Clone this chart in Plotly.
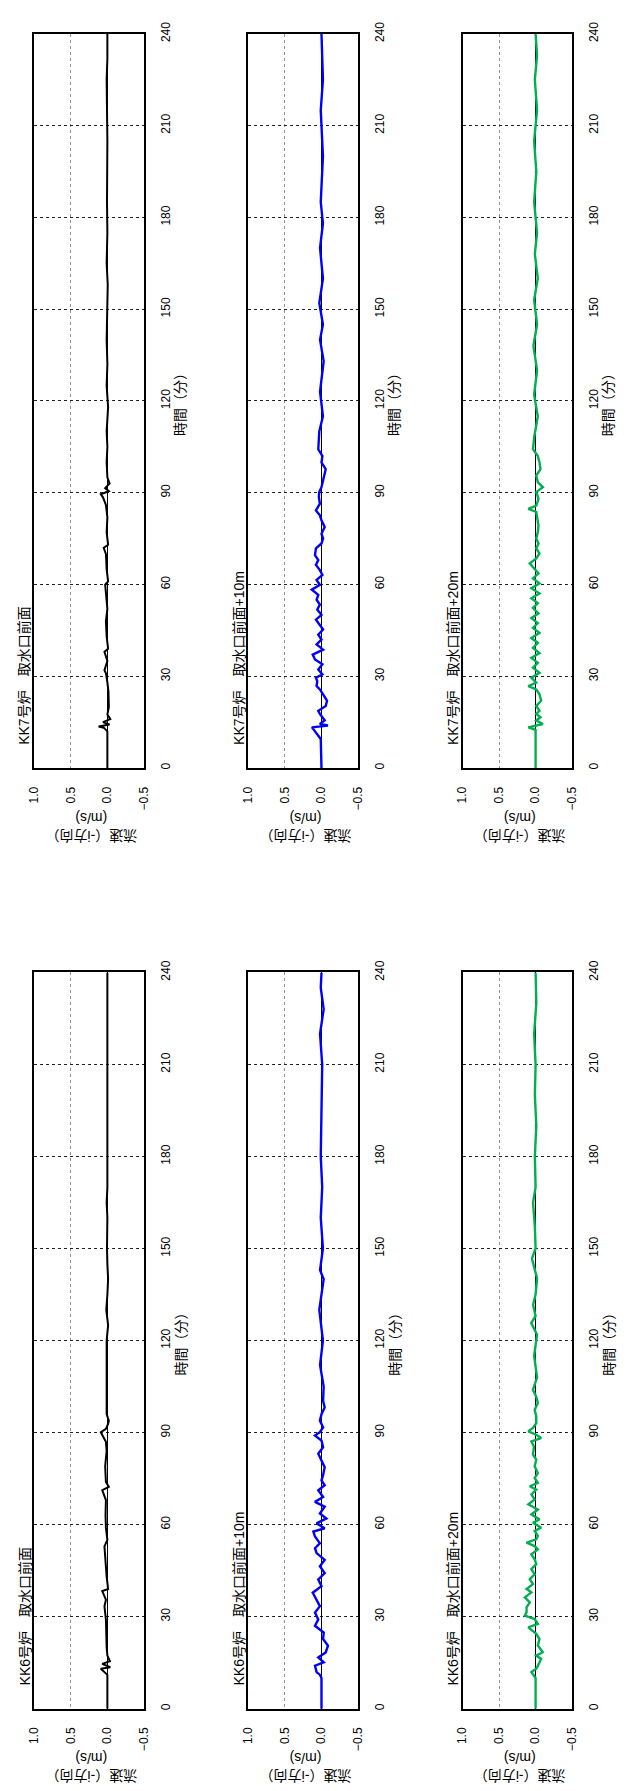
import plotly.graph_objects as go

# ---------------- data (velocity m/s vs time min) ----------------
t_kk6_black = [0, 11, 11.9, 13, 13.5, 14.6, 15.5, 17.3, 20, 24.8, 29, 33.4, 35.5, 38.3, 39, 43, 47, 52.9, 55, 59, 63, 68, 71.2, 72.3, 73.9, 79, 84, 87, 90.1, 91.2, 92.8, 93.8, 96, 100,
               105, 110, 115, 120, 125, 130, 135, 140, 145, 150, 160, 165, 170, 180, 190, 200, 210, 220, 225, 230, 240]
v_kk6_black = [0, 0, 0.04, 0.09, -0.04, 0.07, -0.035, 0.0, 0.01, 0.01, 0.02, 0.04, 0.02, 0.07, -0.01, 0.01, 0.02, 0.04, 0.0, 0.02, 0.025, 0.02, 0.07, -0.02, 0.02, 0.03, 0.01, 0.02, 0.09, 0.02, -0.01, -0.02, 0.01, 0.01,
               0.0, 0.01, 0.0, 0.01, -0.01, 0.015, 0.0, -0.01, 0.0, 0.005, 0.0, 0.01, 0.0, 0.0, 0.005, 0.0, 0.0, 0.005, 0.01, 0.0, 0.0]

t_kk6_blue = [0, 10, 11, 11.9, 14.0, 15.1, 16.7, 18.3, 20.5, 22.7, 24.8, 25.9, 27.0, 29.1, 31.3, 33.4, 35.6, 37.8, 39.9, 42.1, 44.2, 46.4, 48.5, 50.7, 52.3, 53.9, 56.1, 57.7, 58.8, 60.4, 62.0, 63.6, 65.8, 67.4, 69.0, 71.2, 72.8, 74.4, 76.1, 78.7, 80.9, 83.1, 85.2, 87.4, 89.0, 90.1, 91.7, 93.9, 96.0, 98.2, 100.3,
              105, 112, 120, 130, 140, 143, 150, 160, 170, 180, 195, 210, 220, 228, 235, 240]
v_kk6_blue = [0, 0, 0.02, 0.067, 0.089, -0.031, 0.044, -0.058, -0.089, -0.022, -0.031, 0.022, 0.089, 0.044, 0.089, 0.022, 0.067, 0.12, 0.0, 0.044, -0.044, 0.022, -0.044, 0.067, 0.089, 0.022, 0.089, 0.111, -0.044, 0.067, -0.067, 0.022, -0.044, 0.089, -0.022, 0.044, -0.044, 0.0, -0.022, -0.044, 0.0, 0.044, -0.022, 0.0, 0.089, 0.022, -0.022, 0.022, 0.0, -0.044, -0.022,
              -0.03, 0.02, -0.02, 0.03, -0.03, 0.02, -0.02, 0.01, -0.01, 0.01, 0.0, -0.01, 0.02, -0.03, 0.01, 0.0]

t_kk6_green = [0, 10, 11.9, 13, 14, 16.2, 17.3, 18.4, 20.6, 22.7, 24.4, 26.5, 27.6, 29.2, 30.3, 31.4, 33, 34.6, 36.3, 37.9, 39, 40.6, 42.2, 43.8, 45.5, 47.1, 48.7, 50.3, 51.9, 53, 54.1, 55.2, 56.3, 57.9, 59, 60.6, 61.7, 63.3, 64.9, 66.6, 68.2, 69.8, 71.4, 72.5, 73.6, 75.2, 76.8, 79, 81.2, 82.8, 85.5, 87.1, 88.2, 89.3, 90.4, 91.5, 93.1, 95.3, 97.4, 99.6, 101.7, 103.9,
               108, 115, 121.9, 125.7, 128, 131.6, 135, 140.3, 146.7, 150, 157, 165, 170, 180, 190, 200, 210, 220, 230, 240]
v_kk6_green = [0, 0, 0.058, -0.009, -0.031, -0.076, -0.009, -0.098, -0.031, -0.053, -0.009, 0.10, -0.031, 0.013, 0.147, 0.124, 0.124, 0.08, 0.147, 0.058, 0.124, 0.036, 0.08, 0.013, 0.058, -0.009, 0.013, 0.058, -0.031, 0.013, 0.124, -0.009, -0.031, 0.013, -0.076, 0.036, -0.053, 0.058, -0.031, 0.10, 0.013, 0.058, -0.009, 0.08, -0.031, 0.013, -0.031, 0.013, -0.009, 0.036, 0.022, 0.058, -0.076, -0.009, 0.10, 0.036, -0.009, -0.009, 0.013, -0.031, -0.009, 0.036,
               -0.02, 0.02, -0.02, 0.06, 0.0, 0.035, 0.0, -0.02, 0.05, 0.0, 0.01, 0.035, 0.0, 0.01, -0.01, 0.01, 0.0, 0.02, -0.01, 0.0]

t_kk7_black = [0, 12, 13.2, 13.6, 14.2, 15, 16, 17.5, 20, 25, 28, 31, 32, 35, 38, 39, 43, 48, 52, 56, 60, 61, 65, 70, 72, 73, 77, 82, 86, 88.5, 89.5, 90.5, 91.5, 93, 95, 100,
               105, 110, 118, 125, 132, 140, 150, 158, 165, 175, 185, 195, 205, 215, 225, 232, 240]
v_kk7_black = [0, 0, 0.05, 0.12, -0.03, 0.06, -0.04, 0.0, -0.02, -0.015, 0.0, 0.02, 0.04, 0.0, 0.04, -0.01, 0.01, 0.02, 0.0, 0.02, 0.03, -0.01, 0.01, 0.02, 0.05, -0.01, 0.01, 0.0, 0.02, 0.06, 0.09, -0.02, 0.03, -0.03, 0.0, 0.01,
               0.0, 0.01, -0.01, 0.01, 0.0, 0.01, 0.0, -0.005, 0.01, 0.0, 0.005, 0.0, 0.0, 0.005, 0.01, 0.0, 0.0]

t_kk7_blue = [0, 9.5, 13.3, 13.9, 14.4, 15.6, 17.7, 18.7, 20.3, 22, 24.1, 25.7, 26.8, 28.4, 29.5, 30.6, 32.2, 33.9, 35.5, 37.1, 38.7, 40.4, 42, 43.6, 45.3, 46.9, 48.5, 50.1, 51.8, 53.4, 55, 56.6, 58.3, 59.9, 61.5, 63.1, 64.7, 66.4, 68, 69.6, 71.8, 73.4, 75, 76.6, 78.8, 81, 82.6, 84.2, 86.4, 88.6, 90.2, 91.8, 93.4, 95.6, 97.7, 99.9, 102, 104.2,
              110, 115, 123, 133, 140, 145, 152, 160, 170, 178, 185, 200, 215, 225, 240]
v_kk7_blue = [0, 0.01, 0.13, -0.089, 0.022, -0.044, 0.022, 0.044, -0.058, -0.076, -0.022, 0.022, 0.067, 0.058, 0.076, -0.013, 0.044, -0.013, 0.089, 0.12, -0.022, 0.067, 0.0, 0.044, -0.022, 0.022, 0.076, 0.0, 0.058, 0.022, 0.067, 0.044, 0.133, 0.022, 0.067, -0.013, 0.022, 0.076, 0.044, 0.089, 0.076, 0.0, -0.022, 0.0, -0.044, 0.0, 0.022, 0.076, 0.022, 0.036, 0.031, 0.0, -0.013, -0.031, -0.058, 0.0, -0.013, 0.044,
              0.03, -0.02, 0.02, -0.03, 0.02, -0.02, 0.03, -0.02, 0.02, -0.02, 0.01, -0.02, 0.01, -0.02, 0.0]

t_kk7_green = [0, 12.5, 13.3, 14.4, 15.5, 16.6, 17.7, 18.7, 20.3, 22, 24.1, 25.7, 26.8, 27.9, 29.5, 31.1, 32.8, 34.4, 36, 37.6, 39.3, 40.9, 42.5, 44.2, 45.8, 47.4, 49, 50.6, 52.3, 53.9, 55.5, 57.1, 58.8, 60.4, 62, 63.6, 65.3, 66.9, 68.5, 70.1, 71.8, 73.4, 75, 77.2, 79.3, 81.5, 83.7, 84.7, 85.8, 88, 90.2, 91.8, 93.4, 95.6, 97.7, 99.9, 102, 104.2,
               108, 115, 122, 130, 138, 145, 153, 160, 168, 175, 185, 195, 205, 215, 225, 233, 240]
v_kk7_green = [0, 0, 0.10, -0.10, -0.009, -0.067, -0.009, -0.053, -0.009, -0.076, -0.053, -0.009, 0.10, -0.009, 0.058, -0.053, 0.036, -0.031, 0.058, -0.053, 0.036, -0.031, 0.058, -0.053, 0.036, -0.031, 0.058, -0.04, 0.036, -0.031, 0.058, -0.053, 0.058, -0.053, 0.036, -0.04, 0.022, 0.08, -0.009, -0.053, -0.009, -0.04, -0.009, -0.031, -0.04, -0.022, -0.009, 0.10, -0.009, -0.04, -0.009, -0.10, -0.031, -0.009, -0.067, -0.053, -0.031, 0.036,
               0.02, -0.03, 0.02, -0.02, 0.03, -0.02, 0.02, -0.03, 0.01, -0.02, 0.02, -0.01, 0.02, -0.02, 0.01, -0.02, 0.0]

v_ticks = [1.0, 0.5, 0.0, -0.5]
v_ticktext = ["1.0", "0.5", "0.0", "\u22120.5"]
t_ticks = [0, 30, 60, 90, 120, 150, 180, 210, 240]

panels = [
    # (title, t, v, color, width, col, row)
    ("KK6号炉　取水口前面", t_kk6_black, v_kk6_black, "#000000", 2.0, 0, "KK6"),
    ("KK6号炉　取水口前面+10m", t_kk6_blue, v_kk6_blue, "#0000FF", 2.4, 1, "KK6"),
    ("KK6号炉　取水口前面+20m", t_kk6_green, v_kk6_green, "#00B050", 2.4, 2, "KK6"),
    ("KK7号炉　取水口前面", t_kk7_black, v_kk7_black, "#000000", 2.0, 0, "KK7"),
    ("KK7号炉　取水口前面+10m", t_kk7_blue, v_kk7_blue, "#0000FF", 2.4, 1, "KK7"),
    ("KK7号炉　取水口前面+20m", t_kk7_green, v_kk7_green, "#00B050", 2.4, 2, "KK7"),
]

# ---------------- layout geometry (pixels) ----------------
W, H = 627, 1791
cols = [(28, 140), (247, 359), (466, 578)]
rows = {"KK7": (22, 762), "KK6": (968, 1710)}
FONT = "Liberation Sans, Arial, Noto Sans CJK JP"

fig = go.Figure()
layout = dict(width=W, height=H, margin=dict(l=0, r=0, t=0, b=0),
              paper_bgcolor="white", plot_bgcolor="white", showlegend=False,
              font=dict(family=FONT, color="black", size=12))
annotations = []

for i, (title, t, v, color, lw, c, r) in enumerate(panels):
    n = "" if i == 0 else str(i + 1)
    x0, x1 = cols[c]
    y0, y1 = rows[r]
    fig.add_trace(go.Scatter(x=v, y=t, mode="lines", line=dict(color=color, width=lw),
                             xaxis="x" + n, yaxis="y" + n, hoverinfo="skip"))
    layout["xaxis" + n] = dict(
        domain=[x0 / W, x1 / W], anchor="y" + n, range=[1.0, -0.5],
        tickmode="array", tickvals=v_ticks, ticktext=v_ticktext, tickangle=-90,
        ticks="", ticklabelstandoff=12, tickfont=dict(size=12, family=FONT),
        showgrid=True, gridcolor="#909090", griddash="dot", gridwidth=1,
        zeroline=True, zerolinecolor="#000000", zerolinewidth=1,
        showline=True, mirror=True, linecolor="black", linewidth=2, fixedrange=True)
    layout["yaxis" + n] = dict(
        domain=[(H - y1) / H, (H - y0) / H], anchor="x" + n, side="right", range=[0, 240],
        tickmode="array", tickvals=t_ticks, tickangle=-90, ticks="", ticklabelstandoff=10,
        tickfont=dict(size=12, family=FONT),
        showgrid=True, gridcolor="#202020", griddash="dot", gridwidth=1, zeroline=False,
        showline=True, mirror=True, linecolor="black", linewidth=2, fixedrange=True)
    # panel title (left of frame, reading upward)
    annotations.append(dict(text=title, xref="paper", yref="paper",
                            x=(x0 - 10) / W, y=(H - (y1 - 21)) / H,
                            xanchor="center", yanchor="bottom", textangle=-90, showarrow=False,
                            font=dict(size=14, family=FONT)))
    # velocity axis title (upside down)
    annotations.append(dict(text="流速（-i方向）<br>(m/s)", xref="paper", yref="paper",
                            x=((x0 + x1) / 2 + 2) / W, y=(H - (y1 + 59.5)) / H,
                            xanchor="center", yanchor="middle", textangle=180, showarrow=False,
                            font=dict(size=14, family=FONT)))
    # time axis title
    annotations.append(dict(text="時間（分）", xref="paper", yref="paper",
                            x=(x1 + 37) / W, y=(H - (y0 + y1) / 2) / H,
                            xanchor="center", yanchor="middle", textangle=-90, showarrow=False,
                            font=dict(size=14, family=FONT)))

layout["annotations"] = annotations
fig.update_layout(**layout)
fig.write_html("out.html", config={"displayModeBar": False, "staticPlot": True},
               post_script="document.body.style.margin='0px';document.body.style.padding='0px';")
